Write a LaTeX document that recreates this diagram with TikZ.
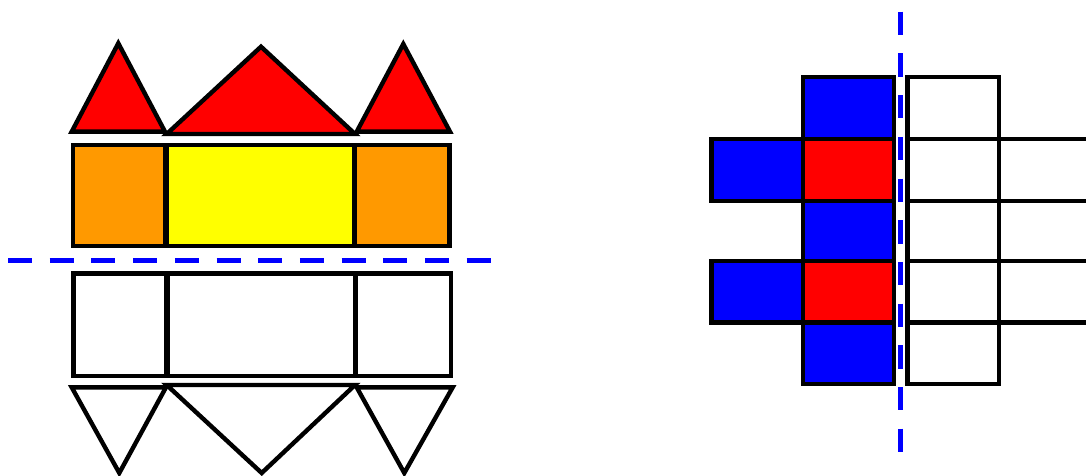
\documentclass[tikz,border=0pt]{standalone}
\definecolor{myorange}{RGB}{255,153,0}
\definecolor{myyellow}{RGB}{255,255,0}
\definecolor{myred}{RGB}{255,0,0}
\definecolor{myblue}{RGB}{0,0,255}
\tikzset{
  shapeline/.style={draw=black,line width=4.4pt,line join=miter},
  axisline/.style={draw=myblue,line width=5pt,dash pattern=on 24pt off 17.7pt}
}
\begin{document}
\begin{tikzpicture}[x=1pt,y=-1pt]
\useasboundingbox (0,0) rectangle (1086,476);
\clip (0,0) rectangle (1086,476);
% top triangles
\filldraw[shapeline,fill=myred] (71.7,131.7) -- (118.3,43.3) -- (165,131.7) -- cycle;
\filldraw[shapeline,fill=myred] (166.7,134) -- (261,46.7) -- (355,134) -- cycle;
\filldraw[shapeline,fill=myred] (356.7,131.7) -- (403.3,44) -- (450,131.7) -- cycle;
% top rectangles
\filldraw[shapeline,fill=myorange] (72.7,145) rectangle (165.6,246);
\filldraw[shapeline,fill=myyellow] (167,145) rectangle (353.7,246);
\filldraw[shapeline,fill=myorange] (355.2,145) rectangle (449.3,246);
% horizontal mirror line
\draw[axisline] (8,260.7) -- (491,260.7);
% bottom rectangles
\draw[shapeline] (73.3,273.3) rectangle (166.2,375.7);
\draw[shapeline] (167.5,273.3) rectangle (354.8,375.7);
\draw[shapeline] (356.2,273.3) rectangle (450.7,375.7);
% bottom triangles
\draw[shapeline] (71.7,387.3) -- (119.3,473) -- (166,387.3) -- cycle;
\draw[shapeline] (166.7,385) -- (261.7,473) -- (355,385) -- cycle;
\draw[shapeline] (356.7,387.3) -- (404.3,473) -- (452.7,387.3) -- cycle;
% right cross grid
\filldraw[shapeline,fill=myblue] (802.7,77.3) rectangle (894,139);
\filldraw[shapeline,fill=myred]  (802.7,139) rectangle (894,200.7);
\filldraw[shapeline,fill=myblue] (802.7,200.7) rectangle (894,261);
\filldraw[shapeline,fill=myred]  (802.7,261) rectangle (894,322.3);
\filldraw[shapeline,fill=myblue] (802.7,322.3) rectangle (894,384);
\filldraw[shapeline,fill=myblue] (711.3,139) rectangle (802.7,200.7);
\filldraw[shapeline,fill=myblue] (711.3,261) rectangle (802.7,322.3);
% mirrored white grid
\draw[shapeline] (907.3,77.3) rectangle (998.7,139);
\draw[shapeline] (907.3,139) rectangle (998.7,200.7);
\draw[shapeline] (907.3,200.7) rectangle (998.7,261);
\draw[shapeline] (907.3,261) rectangle (998.7,322.3);
\draw[shapeline] (907.3,322.3) rectangle (998.7,384);
\draw[shapeline] (998.7,139) rectangle (1092,200.7);
\draw[shapeline] (998.7,261) rectangle (1092,322.3);
% vertical mirror line
\draw[axisline,dash pattern=on 23.3pt off 18.4pt] (900.7,11.7) -- (900.7,452);
\end{tikzpicture}
\end{document}
